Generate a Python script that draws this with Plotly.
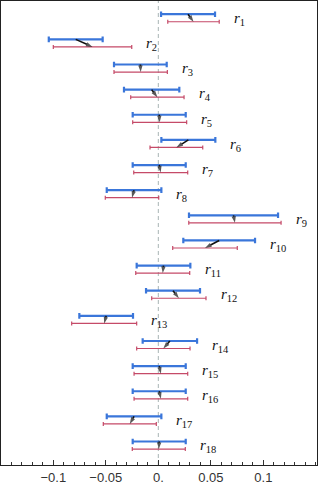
import plotly.graph_objects as go

# ---- data ----
rows = list(range(1, 19))
names = [f"r{i}" for i in rows]

blue_lo = [0.0026, -0.1043, -0.0422, -0.0327, -0.0244, 0.0029, -0.0244, -0.0491, 0.0292,
           0.0238, -0.0206, -0.0117, -0.0752, -0.0149, -0.0244, -0.0244, -0.0491, -0.0244]
blue_hi = [0.0540, -0.0530, 0.0080, 0.0200, 0.0261, 0.0543, 0.0261, 0.0029, 0.1140,
           0.0921, 0.0305, 0.0397, -0.0241, 0.0369, 0.0261, 0.0261, 0.0029, 0.0261]
red_lo = [0.0090, -0.1000, -0.0422, -0.0263, -0.0244, -0.0079, -0.0234, -0.0505, 0.0290,
          0.0137, -0.0215, -0.0063, -0.0825, -0.0206, -0.0231, -0.0231, -0.0524, -0.0248]
red_hi = [0.0580, -0.0253, 0.0086, 0.0245, 0.0270, 0.0423, 0.0280, 0.0004, 0.1169,
          0.0752, 0.0299, 0.0454, -0.0206, 0.0302, 0.0280, 0.0280, -0.0019, 0.0257]

tick_vals = [-0.1, -0.05, 0.0, 0.05, 0.1]
tick_text = ["\u22120.1", "\u22120.05", "0.", "0.05", "0.1"]

BLUE = "#3a76da"
RED = "#c54a68"

# ---- derived ----
b_mid = [(a + b) / 2 for a, b in zip(blue_lo, blue_hi)]
b_half = [(b - a) / 2 for a, b in zip(blue_lo, blue_hi)]
r_mid = [(a + b) / 2 for a, b in zip(red_lo, red_hi)]
r_half = [(b - a) / 2 for a, b in zip(red_lo, red_hi)]
off = 0.15
y_blue = [-i + off for i in rows]
y_red = [-i - off for i in rows]

fig = go.Figure()

fig.add_shape(type="line", xref="x", yref="paper", x0=0, x1=0, y0=0, y1=1,
              line=dict(color="#a9b5b5", width=1, dash="4px,3px"), layer="below")

fig.add_trace(go.Scatter(
    x=b_mid, y=y_blue, mode="markers",
    marker=dict(size=1, opacity=0),
    error_x=dict(type="data", array=b_half, symmetric=True,
                 color=BLUE, thickness=2.2, width=2.8),
    hoverinfo="skip"))

fig.add_trace(go.Scatter(
    x=r_mid, y=y_red, mode="markers",
    marker=dict(size=1, opacity=0),
    error_x=dict(type="data", array=r_half, symmetric=True,
                 color=RED, thickness=1.2, width=2),
    hoverinfo="skip"))

# arrows blue centre -> red centre
ax_x, ax_y, sizes, syms = [], [], [], []
for i in range(len(rows)):
    ax_x += [b_mid[i], r_mid[i], None]
    ax_y += [y_blue[i], y_red[i], None]
    sizes += [0, 7, 0]
    syms += ["circle", "arrow", "circle"]
fig.add_trace(go.Scatter(
    x=ax_x, y=ax_y, mode="lines+markers",
    line=dict(color="#111", width=1.6),
    marker=dict(size=sizes, symbol=syms, angleref="previous", color="#111",
                line=dict(width=0)),
    connectgaps=False, hoverinfo="skip"))

ann = []
for i, n in enumerate(names):
    lx = max(blue_hi[i], red_hi[i]) + 0.012
    ann.append(dict(x=lx, y=-rows[i], xref="x", yref="y",
                    text=f"<i>r</i><sub>{rows[i]}</sub>", showarrow=False,
                    xanchor="left", yanchor="middle", yshift=-1,
                    font=dict(family="Liberation Serif", size=15, color="#111")))

fig.update_layout(
    template="none",
    width=319, height=487,
    margin=dict(l=1, r=2, t=1, b=22, pad=0, autoexpand=False),
    paper_bgcolor="white", plot_bgcolor="white",
    showlegend=False,
    annotations=ann,
    xaxis=dict(range=[-0.1498, 0.1511], tickvals=tick_vals, ticktext=tick_text,
               ticks="inside", ticklen=5, tickwidth=1, tickcolor="#333",
               minor=dict(dtick=0.01, tick0=0, ticks="inside", ticklen=3,
                          tickcolor="#333", showgrid=False),
               showgrid=False, zeroline=False, showline=True, mirror=True,
               linecolor="#222", linewidth=1, automargin=False,
               tickfont=dict(family="Liberation Sans", size=13, color="#333"),
               ticklabelstandoff=0),
    yaxis=dict(range=[-18.784, -0.324], showticklabels=False, ticks="",
               showgrid=False, zeroline=False, showline=True, mirror=True,
               linecolor="#222", linewidth=1, automargin=False),
)

fig.write_html(
    "out.html",
    config={"displayModeBar": False},
    post_script="document.body.style.margin='0';document.body.style.overflow='hidden';",
)
